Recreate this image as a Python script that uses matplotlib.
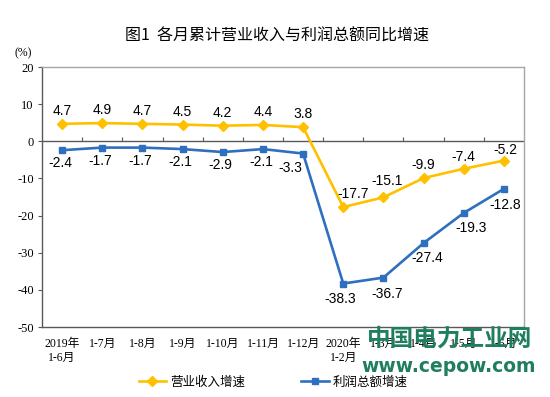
import matplotlib
matplotlib.use("Agg")
import matplotlib.pyplot as plt
import numpy as np

categories = ["2019年\n1-6月", "1-7月", "1-8月", "1-9月", "1-10月", "1-11月", "1-12月",
              "2020年\n1-2月", "1-3月", "1-4月", "1-5月", "1-6月"]
revenue = [4.7, 4.9, 4.7, 4.5, 4.2, 4.4, 3.8, -17.7, -15.1, -9.9, -7.4, -5.2]
profit = [-2.4, -1.7, -1.7, -2.1, -2.9, -2.1, -3.3, -38.3, -36.7, -27.4, -19.3, -12.8]
yticks = [20, 10, 0, -10, -20, -30, -40, -50]

ORANGE = "#FFC000"
BLUE = "#2E6FC0"
CJK = ["Noto Sans CJK SC", "DejaVu Sans"]
SERIF_CJK = ["Liberation Serif", "Noto Sans CJK SC"]

fig = plt.figure(figsize=(5.5, 3.97), dpi=100)
ax = fig.add_axes([42/550, 1-327/397, (524-42)/550, (327-67)/397])
x = np.arange(len(categories))

ax.plot(x, revenue, color=ORANGE, lw=1.9, marker="D", ms=5, label="营业收入增速", zorder=3)
ax.plot(x, profit, color=BLUE, lw=1.9, marker="s", ms=4.5, label="利润总额增速", zorder=3)

ax.set_xlim(-0.5, len(categories)-0.5)
ax.set_ylim(-50, 20)
ax.set_yticks(yticks)
ax.set_yticklabels([str(v) for v in yticks], family="Liberation Serif", fontsize=9)
ax.set_xticks(x)
ax.set_xticklabels(categories, family=SERIF_CJK, fontsize=8.5, va="top", linespacing=1.2)
ax.tick_params(axis="x", length=0, pad=8)
ax.tick_params(axis="y", length=3, width=0.8, color="#595959", pad=3)

for s in ["top", "right"]:
    ax.spines[s].set_color("#A6A6A6")
    ax.spines[s].set_linewidth(1.0)
for s in ["left", "bottom"]:
    ax.spines[s].set_color("#595959")
    ax.spines[s].set_linewidth(1.0)

ax.axhline(0, color="#595959", lw=1.0, zorder=2)
ax.vlines(x[:-1] + 0.5, 0, 1.2, color="#595959", lw=0.8, zorder=2)

# data labels (offsets in pixels)
rev_off = [(0, 13)] * 7 + [(10, 13), (4, 16), (0, 13), (0, 12), (1, 11)]
pro_off = [(-2, -13)] * 6 + [(-13, -14)] + [(-3, -15), (4, -16), (4, -15), (7, -15), (1, -16)]
for i, v in enumerate(revenue):
    ax.annotate(f"{v}", (x[i], v), xytext=rev_off[i], textcoords="offset pixels",
                ha="center", va="center", fontsize=10, family="Liberation Sans", zorder=4)
for i, v in enumerate(profit):
    ax.annotate(f"{v}", (x[i], v), xytext=pro_off[i], textcoords="offset pixels",
                ha="center", va="center", fontsize=10, family="Liberation Sans", zorder=4)

fig.text(277/550, 1-36/397, "图1  各月累计营业收入与利润总额同比增速", ha="center", va="center",
         fontsize=11.5, family=CJK)
fig.text(23/550, 1-53/397, "(%)", ha="center", va="center", fontsize=8.5, family=SERIF_CJK)

fig.legend(loc="center", bbox_to_anchor=(273/550, 1-382/397), ncol=2, frameon=False,
           prop={"family": CJK, "size": 9}, handlelength=2.2, columnspacing=4.5,
           handletextpad=0.3)

# watermark
fig.text(450/550, 1-339/397, "中国电力工业网", ha="center", va="center", fontsize=17,
         family=CJK, fontweight="bold", color="#1F7F5C", zorder=10)
fig.text(449/550, 1-367/397, "www.cepow.com", ha="center", va="center", fontsize=13.5,
         family="DejaVu Sans", fontweight="bold", color="#1F7F5C", zorder=10)

fig.savefig("out.png", dpi=100)
